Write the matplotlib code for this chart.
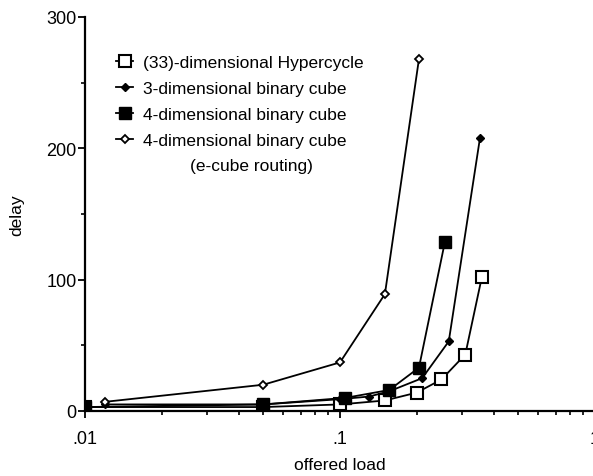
import matplotlib.pyplot as plt
from matplotlib.ticker import FixedLocator, LogLocator, NullFormatter
import numpy as np

plt.rcParams['font.family'] = ['Liberation Sans', 'DejaVu Sans']

# offered load / delay
hyper_x = [0.01, 0.05, 0.1, 0.15, 0.2, 0.25, 0.31, 0.36]
hyper_y = [3, 3, 5, 8, 14, 24, 43, 102]

cube3_x = [0.012, 0.05, 0.1, 0.13, 0.156, 0.21, 0.267, 0.354]
cube3_y = [5, 5, 9, 11, 15, 25, 53, 208]

cube4_x = [0.01, 0.05, 0.105, 0.156, 0.204, 0.258]
cube4_y = [3, 5, 10, 16, 33, 129]

ecube_x = [0.012, 0.05, 0.1, 0.15, 0.204]
ecube_y = [7, 20, 37, 89, 268]

labels = ['(33)-dimensional Hypercycle', '3-dimensional binary cube',
          '4-dimensional binary cube', '4-dimensional binary cube']

W, H = 593, 477
fig = plt.figure(figsize=(W / 100, H / 100), dpi=100)
ax = fig.add_axes([85 / W, (H - 412) / H, 510 / W, (412 - 18) / H])

lw = 1.3
ax.plot(hyper_x, hyper_y, color='black', lw=lw, marker='s', ms=8,
        mfc='white', mew=1.5, label=labels[0])
ax.plot(cube3_x, cube3_y, color='black', lw=lw, marker='D', ms=4.5,
        mfc='black', label=labels[1])
ax.plot(cube4_x, cube4_y, color='black', lw=lw, marker='s', ms=8,
        mfc='black', label=labels[2])
ax.plot(ecube_x, ecube_y, color='black', lw=lw, marker='D', ms=4.5,
        mfc='white', mew=1.3, label=labels[3])

ax.set_xscale('log')
ax.set_xlim(0.01, 1.0)
ax.set_ylim(0, 300)

ax.xaxis.set_major_locator(FixedLocator([0.01, 0.1, 1]))
ax.set_xticklabels(['.01', '.1', '1'])
ax.xaxis.set_minor_locator(LogLocator(base=10, subs=np.arange(2, 10)))
ax.xaxis.set_minor_formatter(NullFormatter())
ax.yaxis.set_major_locator(FixedLocator([0, 100, 200, 300]))
ax.yaxis.set_minor_locator(FixedLocator([50, 150, 250]))

for s in ['top', 'right']:
    ax.spines[s].set_visible(False)
for s in ['left', 'bottom']:
    ax.spines[s].set_linewidth(1.6)

ax.tick_params(which='major', direction='out', length=5, width=1.3,
               labelsize=13, pad=6)
ax.tick_params(which='minor', direction='out', length=3, width=1.2)
ax.tick_params(axis='y', pad=1)
ax.tick_params(axis='x', pad=9)

fig.text(17 / W, 1 - 215 / H, 'delay', rotation=90, ha='center',
         va='center', fontsize=12.5)
fig.text(340 / W, 1 - 466 / H, 'offered load', ha='center', va='center',
         fontsize=12.5)

ax.legend(loc='upper left', bbox_to_anchor=(116 / W, 1 - 56 / H),
          bbox_transform=fig.transFigure, frameon=False, fontsize=12.5,
          handlelength=1.0, handletextpad=0.55, labelspacing=0.62,
          borderpad=0, borderaxespad=0)
fig.text(190 / W, 1 - 166 / H, '(e-cube routing)', ha='left', va='center',
         fontsize=12.5)

fig.savefig('out.png', dpi=100)
